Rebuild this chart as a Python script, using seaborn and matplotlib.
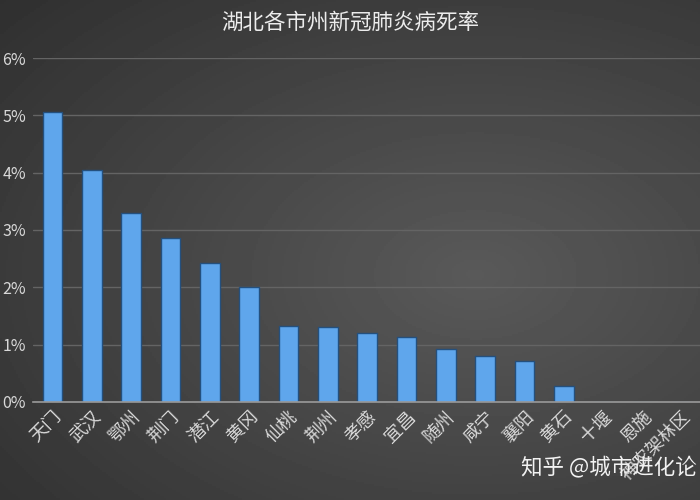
"""湖北各市州新冠肺炎病死率 bar chart."""
import matplotlib
matplotlib.use('Agg')
import matplotlib.pyplot as plt
from matplotlib.ticker import PercentFormatter
import numpy as np
import seaborn as sns

# city names and fatality rates (fraction)
cities = ['天门', '武汉', '鄂州', '荆门', '潜江', '黄冈', '仙桃', '荆州', '孝感',
          '宜昌', '随州', '咸宁', '襄阳', '黄石', '十堰', '恩施', '神农架林区']
rates = [0.0506, 0.0405, 0.0330, 0.0286, 0.0243, 0.0201, 0.0133, 0.0130, 0.0120,
         0.0113, 0.0092, 0.0080, 0.0072, 0.0028, 0.0, 0.0, 0.0]

sns.set_style('dark')
plt.rcParams['font.family'] = ['Noto Sans CJK SC', 'DejaVu Sans']

fig = plt.figure(figsize=(7, 5), dpi=100)

# dark gradient background, lighter towards the centre-right
bg = fig.add_axes([0, 0, 1, 1], zorder=0)
yy, xx = np.mgrid[0:1:250j, 0:1:350j]
dist = np.sqrt(((xx - 0.68) / 0.9) ** 2 + ((yy - 0.55) / 0.8) ** 2)
shade = np.clip(0.35 - 0.16 * dist, 0.17, 0.35)
bg.imshow(shade, cmap='gray', vmin=0, vmax=1, aspect='auto', extent=[0, 1, 0, 1])
bg.axis('off')

ax = fig.add_axes([0.047, 0.196, 0.955, 0.688], zorder=1)
ax.set_facecolor('none')
sns.barplot(x=cities, y=rates, color='#5fa6ec', width=0.5, saturation=1,
            edgecolor='#24507e', linewidth=1.0, ax=ax)

ax.set_xlim(-0.5, len(cities) - 0.5)
ax.set_ylim(0, 0.06)
ax.yaxis.set_major_formatter(PercentFormatter(1.0, decimals=0))
ax.set_yticks(np.arange(0, 0.061, 0.01))
ax.grid(axis='y', color='#646464', linewidth=1.0)
ax.set_axisbelow(True)
for side in ['top', 'right', 'left']:
    ax.spines[side].set_visible(False)
ax.spines['bottom'].set_color('#9a9a9a')
ax.spines['bottom'].set_linewidth(1.2)

# y labels squeezed into the narrow left margin
ax.tick_params(axis='y', length=0, pad=5, labelsize=11.5, labelcolor='#d8d8d8')
ax.tick_params(axis='x', length=0, pad=4, labelsize=13, labelcolor='#d8d8d8')
for label in ax.get_xticklabels():
    label.set_rotation(45)
    label.set_ha('right')
    label.set_rotation_mode('anchor')

fig.text(0.5, 0.954, '湖北各市州新冠肺炎病死率', ha='center', va='center',
         fontsize=15.5, color='#ececec', fontweight='medium')
fig.text(0.996, 0.064, '知乎 @城市进化论', ha='right', va='center',
         fontsize=15.5, color='#f2f2f2')

fig.savefig('out.png', dpi=100)
